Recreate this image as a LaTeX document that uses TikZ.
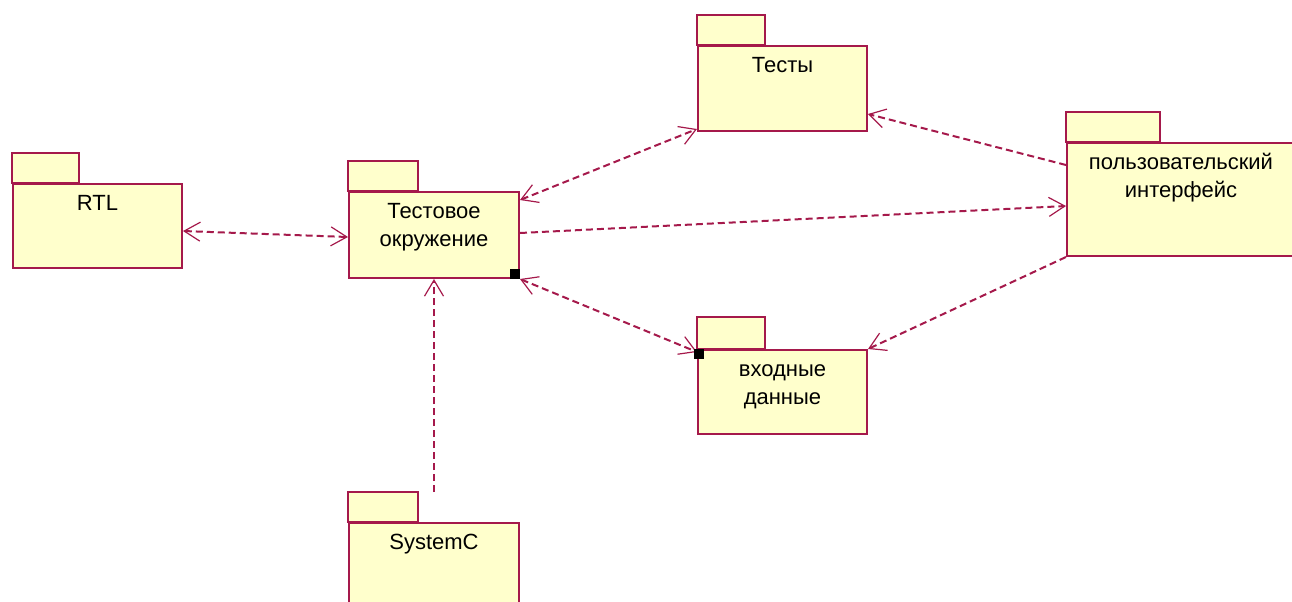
\documentclass[tikz,border=0pt]{standalone}
\usepackage{fontspec}
\setmainfont{Liberation Sans}
\usetikzlibrary{arrows.meta,calc}
\definecolor{umlred}{RGB}{165,25,75}
\definecolor{umlfill}{RGB}{255,255,204}
\newcommand\pkgstrut{\rule{0pt}{8pt}}
\tikzset{
  pkg/.style 2 args={draw=umlred, fill=umlfill, line width=1pt, anchor=north west,
    inner sep=0pt, minimum width=#1*0.5pt, minimum height=#2*0.5pt},
  pkgtab/.style={draw=umlred, fill=umlfill, line width=1pt},
  pkgtext/.style={anchor=north, align=center, inner sep=5.5pt, text=black,
    font=\fontsize{11}{14}\selectfont},
  barb/.tip={Straight Barb[length=8pt,width=9.5pt,line width=0.6pt]},
  dep/.style={draw=umlred, line width=1pt, dash pattern=on 3.5pt off 2pt, -barb},
  dep2/.style={dep, barb-barb},
}
\begin{document}
\begin{tikzpicture}[x=0.5pt, y=-0.5pt]
    \useasboundingbox (0,0) rectangle (1292,601);
    \clip (0,0) rectangle (1292,601);

    % Package RTL
    \node[pkg={169}{84}, label={[pkgtext]north:\pkgstrut RTL}] (rtl) at (12,183) {};
    \draw[pkgtab] (rtl.north west) rectangle ++(67,-30);

    % Package test environment
    \node[pkg={170}{86}, label={[pkgtext]north:\pkgstrut Тестовое\\окружение}] (env) at (348,191) {};
    \draw[pkgtab] (env.north west) rectangle ++(70,-30);

    % Package tests
    \node[pkg={169}{85}, label={[pkgtext]north:\pkgstrut Тесты}] (tests) at (697,45) {};
    \draw[pkgtab] (tests.north west) rectangle ++(68,-30);

    % Package user interface
    \node[pkg={228}{113}, label={[pkgtext]north:\pkgstrut пользовательский\\интерфейс}] (ui) at (1066,142) {};
    \draw[pkgtab] (ui.north west) rectangle ++(94,-30);

    % Package input data
    \node[pkg={169}{84}, label={[pkgtext]north:\pkgstrut входные\\данные}] (inp) at (697,349) {};
    \draw[pkgtab] (inp.north west) rectangle ++(68,-32);

    % Package SystemC
    \node[pkg={170}{90}, label={[pkgtext]north:\pkgstrut SystemC}] (sysc) at (348,522) {};
    \draw[pkgtab] (sysc.north west) rectangle ++(70,-30);

    % Dependencies
    \draw[dep2] ($(rtl.east)+(0,5)$) -- ($(env.west)+(0,2)$);
    \draw[dep2] ($(env.north east)+(0,9)$) -- ($(tests.south west)+(0,-3)$);
    \draw[dep] ($(env.east)+(0,-2)$) -- ($(ui.west)+(0,6.5)$);
    \draw[dep2] (env.south east) -- ($(inp.north west)+(0,3)$);
    \draw[dep] ($(ui.north west)+(0,23)$) -- ($(tests.south east)+(0,-18)$);
    \draw[dep] (ui.south west) -- (inp.north east);
    \draw[dep] ($(sysc.north)+(0,-30)$) -- (env.south);

    % Selection handles
    \fill ($(env.south east)+(-10,-10)$) rectangle (env.south east);
    \fill ($(inp.north west)+(-3,0)$) rectangle ++(10,10);
\end{tikzpicture}
\end{document}
